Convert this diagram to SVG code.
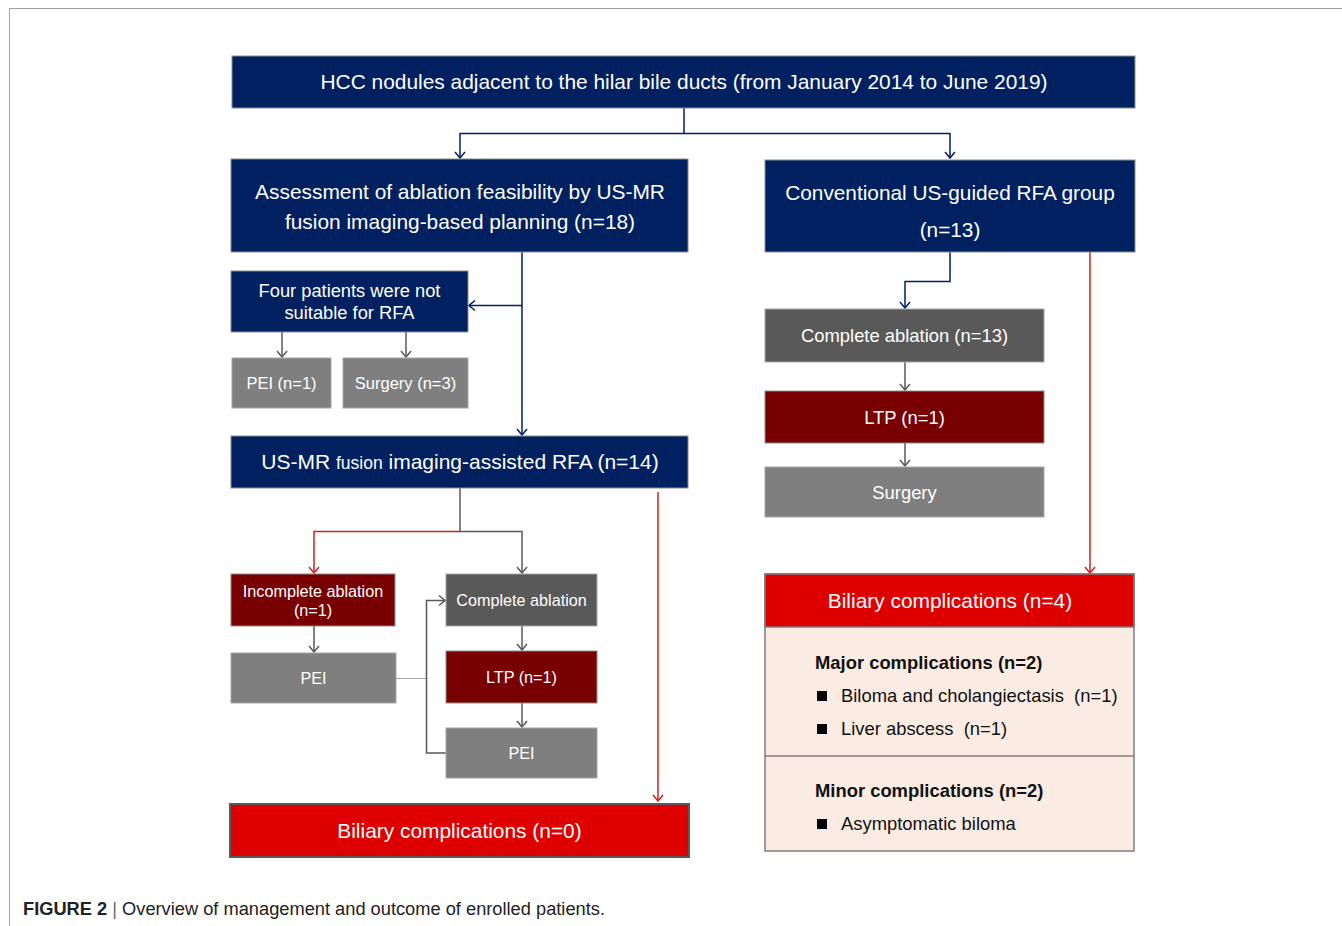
<svg xmlns="http://www.w3.org/2000/svg" width="1342" height="926" viewBox="0 0 1342 926">
<defs>
<style>
.t{font-family:"Liberation Sans",Arial,sans-serif;fill:#fff;text-anchor:middle}
.k{font-family:"Liberation Sans",Arial,sans-serif;fill:#111}
.navy{fill:#002060;stroke:#8c8c8c;stroke-width:1}
.dred{fill:#780000;stroke:#8c8c8c;stroke-width:1}
.dgray{fill:#595959;stroke:#a6a6a6;stroke-width:1}
.gray{fill:#7f7f7f;stroke:#a6a6a6;stroke-width:1}
.ln{fill:none;stroke-width:1.5}
.cn{stroke:#002060}
.cg{stroke:#595959}
.cr{stroke:#d42020}
</style>
<marker id="an" viewBox="0 0 12 12" refX="11" refY="6" markerWidth="12" markerHeight="12" markerUnits="userSpaceOnUse" orient="auto"><path d="M5,1 L11,6 L5,11" fill="none" stroke="#002060" stroke-width="1.5"/></marker>
<marker id="ag" viewBox="0 0 12 12" refX="11" refY="6" markerWidth="12" markerHeight="12" markerUnits="userSpaceOnUse" orient="auto"><path d="M5,1 L11,6 L5,11" fill="none" stroke="#595959" stroke-width="1.5"/></marker>
<marker id="ar" viewBox="0 0 12 12" refX="11" refY="6" markerWidth="12" markerHeight="12" markerUnits="userSpaceOnUse" orient="auto"><path d="M5,1 L11,6 L5,11" fill="none" stroke="#d42020" stroke-width="1.5"/></marker>
</defs>
<rect width="1342" height="926" fill="#fff"/>
<path d="M9.5,926 L9.5,8.5 L1342,8.5" fill="none" stroke="#a0a0a0" stroke-width="1"/>

<g id="connectors">
<path class="ln cn" d="M684,108 V133.5 H460 V158" marker-end="url(#an)"/>
<path class="ln cn" d="M684,133.5 H950 V158" marker-end="url(#an)"/>
<path class="ln cn" d="M522,252 V435" marker-end="url(#an)"/>
<path class="ln cn" d="M522,305.5 H469" marker-end="url(#an)"/>
<path class="ln cg" d="M282,332 V357" marker-end="url(#ag)"/>
<path class="ln cg" d="M406,332 V357" marker-end="url(#ag)"/>
<path class="ln cg" d="M460,488 V531.5 H522 V573" marker-end="url(#ag)"/>
<path class="ln cr" d="M460,531.5 H314 V573" marker-end="url(#ar)"/>
<path class="ln cg" d="M314,626 V652" marker-end="url(#ag)"/>
<path class="ln cg" d="M522,626 V650" marker-end="url(#ag)"/>
<path class="ln cg" d="M522,703 V727" marker-end="url(#ag)"/>
<path fill="none" stroke="#a6a6a6" stroke-width="1" d="M396,678.5 H426"/>
<path class="ln cg" d="M446,753 H426.5 V600.5 H445" marker-end="url(#ag)"/>
<path class="ln cr" d="M658,492 V801" marker-end="url(#ar)"/>
<path class="ln cn" d="M950,252 V281.5 H905 V308" marker-end="url(#an)"/>
<path class="ln cg" d="M905,362 V390" marker-end="url(#ag)"/>
<path class="ln cg" d="M905,443 V466" marker-end="url(#ag)"/>
<path class="ln cr" d="M1090,252 V573" marker-end="url(#ar)"/>
</g>

<g id="n-top"><rect class="navy" x="232" y="56" width="903" height="52"/><text class="t" x="684" y="89" font-size="20.9">HCC nodules adjacent to the hilar bile ducts (from January 2014 to June 2019)</text></g>

<g id="n-assess"><rect class="navy" x="231" y="159" width="457" height="93"/><text class="t" x="460" y="199" font-size="20.9">Assessment of ablation feasibility by US-MR</text><text class="t" x="460" y="229" font-size="20.9">fusion imaging-based planning (n=18)</text></g>

<g id="n-conv"><rect class="navy" x="765" y="160" width="370" height="92"/><text class="t" x="950" y="200" font-size="20.8">Conventional US-guided RFA group</text><text class="t" x="950" y="237" font-size="20.8">(n=13)</text></g>

<g id="n-four"><rect class="navy" x="231" y="271" width="237" height="61"/><text class="t" x="349.5" y="297" font-size="18.3">Four patients were not</text><text class="t" x="349.5" y="319" font-size="18.3">suitable for RFA</text></g>

<g id="n-pei1"><rect class="gray" x="232" y="358" width="99" height="50"/><text class="t" x="281.5" y="389" font-size="16.5">PEI (n=1)</text></g>
<g id="n-surg3"><rect class="gray" x="343" y="358" width="125" height="50"/><text class="t" x="405.5" y="389" font-size="16.5">Surgery (n=3)</text></g>

<g id="n-usmr"><rect class="navy" x="231" y="436" width="457" height="52"/><text class="t" x="460" y="469" font-size="21">US-MR <tspan font-size="17.5">fusion</tspan> imaging-assisted RFA (n=14)</text></g>

<g id="n-incomplete"><rect class="dred" x="231" y="574" width="164" height="52"/><text class="t" x="313" y="597" font-size="16.2">Incomplete ablation</text><text class="t" x="313" y="616" font-size="16.2">(n=1)</text></g>
<g id="n-pei-l"><rect class="gray" x="231" y="653" width="165" height="50"/><text class="t" x="313.5" y="684" font-size="16.2">PEI</text></g>
<g id="n-complete"><rect class="dgray" x="446" y="574" width="151" height="52"/><text class="t" x="521.5" y="606" font-size="16.2">Complete ablation</text></g>
<g id="n-ltp-l"><rect class="dred" x="446" y="651" width="151" height="52"/><text class="t" x="521.5" y="683" font-size="16.2">LTP (n=1)</text></g>
<g id="n-pei-r"><rect class="gray" x="446" y="728" width="151" height="50"/><text class="t" x="521.5" y="759" font-size="16.2">PEI</text></g>

<g id="n-bil0"><rect x="230" y="804" width="459" height="53" fill="#de0000" stroke="#595959" stroke-width="2"/><text class="t" x="459.5" y="838" font-size="20.9">Biliary complications (n=0)</text></g>

<g id="n-ca13"><rect class="dgray" x="765" y="309" width="279" height="53"/><text class="t" x="904.5" y="342" font-size="18.4">Complete ablation (n=13)</text></g>
<g id="n-ltp-r"><rect class="dred" x="765" y="391" width="279" height="52"/><text class="t" x="904.5" y="424" font-size="18.4">LTP (n=1)</text></g>
<g id="n-surg-r"><rect class="gray" x="765" y="467" width="279" height="50"/><text class="t" x="904.5" y="499" font-size="18.4">Surgery</text></g>

<g id="n-bil4">
<rect x="765" y="574" width="369" height="277" fill="#fbece3" stroke="#7f7f7f" stroke-width="1.5"/>
<rect x="765" y="574" width="369" height="53" fill="#de0000" stroke="#7f7f7f" stroke-width="1.5"/>
<path d="M765,756 H1134" stroke="#7f7f7f" stroke-width="1.5"/>
<text class="t" x="950" y="608" font-size="20.9">Biliary complications (n=4)</text>
<text class="k" x="815" y="669" font-size="18.4" font-weight="bold">Major complications (n=2)</text>
<rect x="817" y="691" width="10" height="10" fill="#000"/>
<text class="k" x="841" y="702" font-size="18.4" xml:space="preserve">Biloma and cholangiectasis  (n=1)</text>
<rect x="817" y="724" width="10" height="10" fill="#000"/>
<text class="k" x="841" y="735" font-size="18.4" xml:space="preserve">Liver abscess  (n=1)</text>
<text class="k" x="815" y="797" font-size="18.4" font-weight="bold">Minor complications (n=2)</text>
<rect x="817" y="819" width="10" height="10" fill="#000"/>
<text class="k" x="841" y="830" font-size="18.4">Asymptomatic biloma</text>
</g>

<text x="23" y="915" font-family="'Liberation Sans Narrow','Liberation Sans',Arial,sans-serif" font-size="18" fill="#222" textLength="582" lengthAdjust="spacingAndGlyphs"><tspan font-weight="bold">FIGURE 2</tspan><tspan fill="#666"> | </tspan>Overview of management and outcome of enrolled patients.</text>
</svg>
